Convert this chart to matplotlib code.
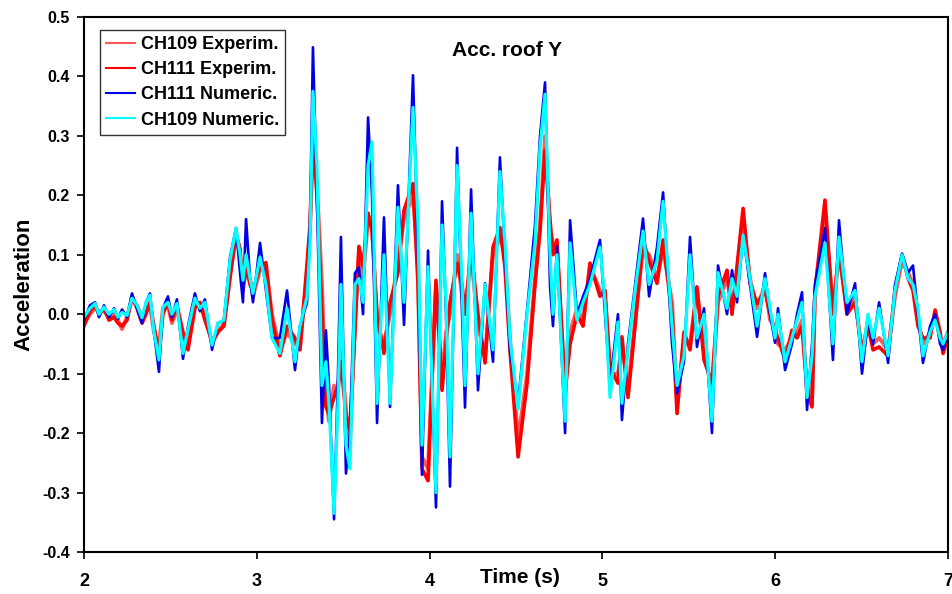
import matplotlib
matplotlib.use("Agg")
import matplotlib.pyplot as plt

plt.rcParams['font.family'] = ['Liberation Sans', 'DejaVu Sans']
plt.rcParams['font.weight'] = 'bold'

# time samples (s) at the peaks / troughs
time = [2.000, 2.035, 2.064, 2.087, 2.116, 2.145, 2.174, 2.197, 2.220, 2.249,
        2.278, 2.307, 2.336, 2.359, 2.382, 2.405, 2.434, 2.457, 2.486, 2.509,
        2.538, 2.573, 2.602, 2.642, 2.671, 2.700, 2.741, 2.775, 2.810, 2.845,
        2.880, 2.903, 2.920, 2.938, 2.961, 2.978, 3.019, 3.053, 3.088, 3.134,
        3.175, 3.221, 3.250, 3.291, 3.308, 3.325, 3.348, 3.377, 3.400, 3.418,
        3.447, 3.470, 3.487, 3.516, 3.539, 3.568, 3.591, 3.615, 3.644, 3.667,
        3.696, 3.736, 3.771, 3.817, 3.852, 3.904, 3.933, 3.956, 3.991, 4.037,
        4.072, 4.095, 4.118, 4.159, 4.188, 4.205, 4.240, 4.280, 4.321, 4.367,
        4.407, 4.436, 4.465, 4.512, 4.564, 4.610, 4.639, 4.668, 4.697, 4.714,
        4.737, 4.784, 4.813, 4.853, 4.888, 4.928, 4.986, 5.015, 5.044, 5.090,
        5.113, 5.148, 5.189, 5.235, 5.270, 5.316, 5.351, 5.403, 5.432, 5.472,
        5.507, 5.547, 5.588, 5.634, 5.669, 5.721, 5.750, 5.779, 5.814, 5.854,
        5.895, 5.941, 5.970, 5.999, 6.016, 6.057, 6.097, 6.126, 6.155, 6.184,
        6.213, 6.230, 6.288, 6.334, 6.369, 6.415, 6.462, 6.502, 6.537, 6.566,
        6.601, 6.653, 6.693, 6.734, 6.769, 6.797, 6.826, 6.855, 6.896, 6.925,
        6.954, 6.971, 7.000]

ch111_num = [-0.010, 0.015, 0.020, -0.005, 0.015, -0.005, 0.010, -0.008, 0.008, -0.005,
             0.035, 0.010, -0.015, 0.020, 0.035, -0.030, -0.097, 0.010, 0.030, -0.005,
             0.025, -0.075, -0.020, 0.035, 0.005, 0.025, -0.060, -0.015, -0.010, 0.095,
             0.145, 0.070, 0.020, 0.160, 0.060, 0.020, 0.120, 0.040, -0.040, -0.040,
             0.040, -0.094, -0.020, 0.020, 0.150, 0.449, 0.200, -0.183, -0.027, -0.120,
             -0.345, -0.100, 0.130, -0.268, -0.200, 0.069, 0.079, 0.000, 0.331, 0.200,
             -0.183, 0.163, -0.156, 0.217, -0.018, 0.402, 0.100, -0.270, 0.107, -0.325,
             0.190, 0.000, -0.290, 0.280, 0.000, -0.157, 0.210, -0.128, 0.052, -0.080,
             0.264, 0.100, -0.060, -0.150, 0.007, 0.150, 0.300, 0.390, 0.046, -0.020,
             0.114, -0.200, 0.158, 0.000, 0.030, 0.060, 0.125, 0.000, -0.120, 0.000,
             -0.178, -0.050, 0.050, 0.161, 0.030, 0.113, 0.205, -0.050, -0.133, -0.080,
             0.130, -0.055, 0.010, -0.200, 0.082, 0.000, 0.074, 0.020, 0.133, 0.050,
             -0.038, 0.069, 0.000, -0.048, 0.010, -0.094, -0.050, 0.000, 0.037, -0.161,
             -0.050, 0.050, 0.145, -0.077, 0.158, 0.000, 0.052, -0.100, -0.010, -0.050,
             0.020, -0.082, 0.050, 0.102, 0.070, 0.082, 0.000, -0.082, -0.020, 0.000,
             -0.050, -0.060, -0.030]

ch109_num = [-0.005, 0.010, 0.018, 0.000, 0.012, 0.000, 0.008, -0.005, 0.003, -0.002,
             0.027, 0.015, -0.006, 0.020, 0.032, -0.030, -0.077, 0.012, 0.020, 0.000,
             0.018, -0.066, -0.025, 0.027, 0.010, 0.020, -0.052, -0.015, -0.010, 0.090,
             0.145, 0.100, 0.057, 0.100, 0.060, 0.035, 0.096, 0.050, -0.040, -0.066,
             0.010, -0.080, -0.020, 0.030, 0.120, 0.375, 0.250, -0.120, -0.080, -0.150,
             -0.335, -0.150, 0.050, -0.220, -0.260, 0.050, 0.060, 0.020, 0.250, 0.290,
             -0.150, 0.100, -0.150, 0.180, 0.020, 0.348, 0.150, -0.220, 0.080, -0.300,
             0.150, 0.020, -0.240, 0.250, 0.050, -0.120, 0.170, -0.100, 0.050, -0.060,
             0.240, 0.120, -0.040, -0.160, 0.000, 0.120, 0.280, 0.370, 0.100, 0.000,
             0.100, -0.180, 0.120, -0.010, 0.020, 0.050, 0.113, 0.020, -0.140, -0.013,
             -0.150, -0.060, 0.040, 0.140, 0.050, 0.090, 0.190, -0.020, -0.120, -0.070,
             0.100, -0.040, 0.000, -0.180, 0.070, 0.010, 0.060, 0.030, 0.133, 0.060,
             -0.020, 0.060, 0.010, -0.040, 0.000, -0.080, -0.040, -0.010, 0.020, -0.140,
             -0.070, 0.030, 0.120, -0.050, 0.130, 0.020, 0.040, -0.080, 0.000, -0.040,
             0.010, -0.070, 0.040, 0.100, 0.060, 0.050, 0.010, -0.070, -0.030, -0.010,
             -0.040, -0.050, -0.030]

ch111_exp = [-0.020, 0.005, 0.015, 0.000, 0.010, -0.010, -0.005, -0.015, -0.020, -0.010,
             0.030, 0.010, -0.015, 0.000, 0.020, -0.020, -0.066, 0.000, 0.020, -0.010,
             0.015, -0.030, -0.060, 0.010, 0.020, -0.010, -0.045, -0.030, -0.020, 0.060,
             0.136, 0.110, 0.040, 0.080, 0.050, 0.040, 0.080, 0.087, -0.010, -0.070,
             -0.020, -0.040, -0.060, 0.085, 0.150, 0.305, 0.200, 0.000, -0.156, -0.167,
             -0.140, -0.120, -0.080, -0.170, -0.195, -0.030, 0.114, 0.080, 0.170, 0.140,
             0.000, -0.066, 0.020, 0.070, 0.175, 0.220, 0.050, -0.260, -0.280, 0.057,
             -0.128, -0.050, 0.020, 0.086, 0.050, 0.000, 0.108, 0.000, -0.082, 0.113,
             0.146, 0.080, -0.060, -0.240, -0.116, 0.050, 0.140, 0.276, 0.158, 0.100,
             0.125, -0.133, -0.050, 0.000, -0.020, 0.086, 0.030, 0.040, -0.090, -0.116,
             -0.038, -0.140, -0.020, 0.125, 0.090, 0.052, 0.125, 0.000, -0.167, -0.030,
             -0.060, 0.046, -0.077, -0.116, 0.030, 0.074, 0.000, 0.080, 0.178, 0.052,
             0.018, 0.040, 0.000, -0.030, -0.040, -0.077, -0.027, -0.040, -0.020, -0.130,
             -0.156, 0.040, 0.192, 0.000, 0.110, 0.000, 0.020, -0.060, -0.020, -0.060,
             -0.055, -0.070, 0.040, 0.100, 0.060, 0.040, -0.020, -0.040, -0.040, 0.007,
             -0.030, -0.066, -0.040]

ch109_exp = [-0.015, 0.000, 0.010, 0.005, 0.005, -0.005, 0.000, -0.010, -0.025, -0.005,
             0.025, 0.015, -0.010, 0.005, 0.015, -0.030, -0.055, 0.010, 0.015, -0.015,
             0.010, -0.040, -0.050, 0.020, 0.015, 0.000, -0.050, -0.030, -0.015, 0.070,
             0.130, 0.100, 0.050, 0.070, 0.060, 0.030, 0.075, 0.080, 0.000, -0.060,
             -0.030, -0.050, -0.055, 0.070, 0.140, 0.280, 0.220, 0.050, -0.140, -0.180,
             -0.120, -0.130, -0.060, -0.160, -0.220, -0.010, 0.100, 0.060, 0.160, 0.150,
             -0.020, -0.050, 0.000, 0.090, 0.160, 0.200, 0.080, -0.240, -0.260, 0.050,
             -0.110, -0.030, 0.000, 0.100, 0.030, 0.000, 0.100, -0.020, -0.070, 0.100,
             0.130, 0.100, -0.040, -0.212, -0.100, 0.060, 0.150, 0.300, 0.140, 0.120,
             0.110, -0.120, -0.030, 0.010, -0.010, 0.080, 0.040, 0.030, -0.100, -0.100,
             -0.050, -0.130, -0.010, 0.110, 0.100, 0.060, 0.110, 0.020, -0.150, -0.040,
             -0.050, 0.040, -0.060, -0.130, 0.020, 0.060, 0.010, 0.070, 0.160, 0.060,
             0.010, 0.050, -0.010, -0.020, -0.050, -0.060, -0.040, -0.030, -0.010, -0.120,
             -0.140, 0.030, 0.170, 0.010, 0.100, 0.010, 0.030, -0.070, -0.010, -0.050,
             -0.040, -0.060, 0.030, 0.090, 0.070, 0.050, -0.010, -0.050, -0.030, 0.000,
             -0.040, -0.050, -0.030]

yticks = [-0.4, -0.3, -0.2, -0.1, 0.0, 0.1, 0.2, 0.3, 0.4, 0.5]
xticks = [2, 3, 4, 5, 6, 7]

fig = plt.figure(figsize=(9.53, 5.94), dpi=100)
ax = fig.add_axes([0.0881, 0.0707, 0.9067, 0.9007])

ax.plot(time, ch109_exp, color='#ff5a5a', lw=2.8, label='CH109 Experim.')
ax.plot(time, ch111_exp, color='#ff0000', lw=2.6, label='CH111 Experim.')
ax.plot(time, ch111_num, color='#0000e6', lw=1.9, label='CH111 Numeric.')
ax.plot(time, ch109_num, color='#00ffff', lw=2.3, label='CH109 Numeric.')

ax.set_xlim(2, 7)
ax.set_ylim(-0.4, 0.5)
ax.set_xticks(xticks)
ax.set_xticklabels([str(x) for x in xticks], fontsize=13, fontweight='bold')
ax.set_yticks(yticks)
ax.set_yticklabels(['%.1f' % y for y in yticks], fontsize=11.5, fontweight='bold')
ax.tick_params(axis='x', direction='out', length=5, width=1.2, pad=10)
ax.tick_params(axis='y', direction='out', length=5, width=1.2, pad=5)
for s in ax.spines.values():
    s.set_linewidth(1.5)

ax.set_ylabel('Acceleration', fontsize=16, fontweight='bold', labelpad=6)
ax.text(0.505, -0.047, 'Time (s)', transform=ax.transAxes, ha='center', va='center',
        fontsize=15, fontweight='bold')
ax.text(0.49, 0.938, 'Acc. roof Y', transform=ax.transAxes, ha='center', va='center',
        fontsize=15, fontweight='bold')

leg = ax.legend(loc='upper left', bbox_to_anchor=(0.0185, 0.976), fontsize=13,
                frameon=True, fancybox=False, edgecolor='black', handlelength=1.6,
                borderaxespad=0, labelspacing=0.45, handletextpad=0.3,
                borderpad=0.35)
leg.get_frame().set_linewidth(1.0)
for line in leg.get_lines():
    line.set_linewidth(1.5)

fig.savefig('out.png', dpi=100)
